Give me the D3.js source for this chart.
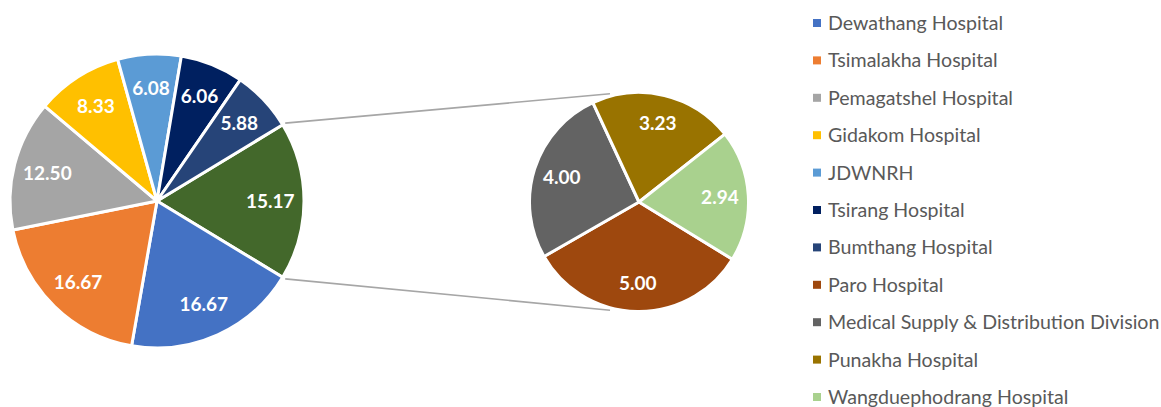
<!DOCTYPE html>
<html>
<head>
<meta charset="utf-8">
<script src="https://cdn.jsdelivr.net/npm/d3@7"></script>
<style>
  body { margin: 0; background: #fff; }
  svg { display: block; }
</style>
</head>
<body>
<div class="main"></div>
<script>
// main pie
var mainNames = ["Dewathang Hospital", "Tsimalakha Hospital", "Pemagatshel Hospital", "Gidakom Hospital",
                 "JDWNRH", "Tsirang Hospital", "Bumthang Hospital"];
var mainValues = [16.67, 16.67, 12.50, 8.33, 6.08, 6.06, 5.88];
var mainColors = ["#4472C4", "#ED7D31", "#A5A5A5", "#FFC000", "#5B9BD5", "#002060", "#264478"];

// second pie (the "other" slice)
var subNames = ["Paro Hospital", "Medical Supply & Distribution Division", "Punakha Hospital", "Wangduephodrang Hospital"];
var subValues = [5.00, 4.00, 3.23, 2.94];
var subColors = ["#9E480E", "#636363", "#997300", "#A9D18E"];
var otherColor = "#43682B";

var width = 1161;
var height = 407;
var rad = Math.PI / 180;

var svg = d3.select(".main")
    .append("svg")
        .attr("width", width)
        .attr("height", height);

var otherValue = +d3.sum(subValues).toFixed(2);
var pieData = [{name: "Other", value: otherValue, color: otherColor}]
    .concat(mainNames.map((n, i) => ({name: n, value: mainValues[i], color: mainColors[i]})));

var total = d3.sum(pieData, d => d.value);
var otherAngle = otherValue / total * 2 * Math.PI;
var start1 = Math.PI / 2 - otherAngle / 2;

var c1 = {x: 157, y: 201, r: 147};
var c2 = {x: 639, y: 202, r: 109.5};

var pie1 = d3.pie().sort(null).value(d => d.value)
    .startAngle(start1).endAngle(start1 + 2 * Math.PI);
var arc1 = d3.arc().innerRadius(0).outerRadius(c1.r);
var labelArc1 = d3.arc().innerRadius(c1.r * 0.77).outerRadius(c1.r * 0.77);

var subData = subNames.map((n, i) => ({name: n, value: subValues[i], color: subColors[i]}));
var start2 = 121.5 * rad;
var pie2 = d3.pie().sort(null).value(d => d.value)
    .startAngle(start2).endAngle(start2 + 2 * Math.PI);
var arc2 = d3.arc().innerRadius(0).outerRadius(c2.r);
var labelArc2 = d3.arc().innerRadius(c2.r * 0.74).outerRadius(c2.r * 0.74);

// connector lines
function pt(c, a, r) {
    return [c.x + r * Math.sin(a), c.y - r * Math.cos(a)];
}
var links = [
    [pt(c1, start1, c1.r + 3), pt(c2, 345 * rad, c2.r + 2.5)],
    [pt(c1, start1 + otherAngle, c1.r + 3), pt(c2, 195 * rad, c2.r + 2.5)]
];
svg.selectAll("line.link")
    .data(links)
    .enter()
    .append("line")
    .attr("class", "link")
    .attr("x1", d => d[0][0])
    .attr("y1", d => d[0][1])
    .attr("x2", d => d[1][0])
    .attr("y2", d => d[1][1])
    .style("stroke", "#A6A6A6")
    .style("stroke-width", 1.6);

var g1 = svg.append("g").attr("transform", "translate(" + c1.x + "," + c1.y + ")");
var slices1 = pie1(pieData);
g1.selectAll("path")
    .data(slices1)
    .enter()
    .append("path")
    .attr("d", arc1)
    .style("fill", d => d.data.color)
    .style("stroke", "#fff")
    .style("stroke-width", 3)
    .style("stroke-linejoin", "round");
g1.selectAll("text")
    .data(slices1)
    .enter()
    .append("text")
    .attr("transform", d => "translate(" + labelArc1.centroid(d) + ")")
    .attr("text-anchor", "middle")
    .attr("dy", "0.36em")
    .style("font-family", "Lato, 'Open Sans', sans-serif")
    .style("font-weight", "bold")
    .style("font-size", "19px")
    .style("fill", "#fff")
    .text(d => d.data.value.toFixed(2));

var g2 = svg.append("g").attr("transform", "translate(" + c2.x + "," + c2.y + ")");
var slices2 = pie2(subData);
g2.selectAll("path")
    .data(slices2)
    .enter()
    .append("path")
    .attr("d", arc2)
    .style("fill", d => d.data.color)
    .style("stroke", "#fff")
    .style("stroke-width", 3)
    .style("stroke-linejoin", "round");
g2.selectAll("text")
    .data(slices2)
    .enter()
    .append("text")
    .attr("transform", d => "translate(" + labelArc2.centroid(d) + ")")
    .attr("text-anchor", "middle")
    .attr("dy", "0.36em")
    .style("font-family", "Lato, 'Open Sans', sans-serif")
    .style("font-weight", "bold")
    .style("font-size", "19px")
    .style("fill", "#fff")
    .text(d => d.data.value.toFixed(2));

// legend
var legendItems = mainNames.map((n, i) => ({name: n, color: mainColors[i]}))
    .concat(subNames.map((n, i) => ({name: n, color: subColors[i]})));
var legendY = d3.scalePoint()
    .domain(legendItems.map(d => d.name))
    .range([23, 397]);

var legend = svg.append("g");
var rows = legend.selectAll("g")
    .data(legendItems)
    .enter()
    .append("g")
    .attr("transform", d => "translate(813," + legendY(d.name) + ")");
rows.append("rect")
    .attr("x", 0)
    .attr("y", -4)
    .attr("width", 8)
    .attr("height", 8)
    .style("fill", d => d.color);
rows.append("text")
    .attr("x", 15)
    .attr("dy", "0.36em")
    .style("font-family", "Lato, 'Open Sans', sans-serif")
    .style("font-size", "19.6px")
    .style("fill", "#595959")
    .text(d => d.name);
</script>
</body>
</html>
